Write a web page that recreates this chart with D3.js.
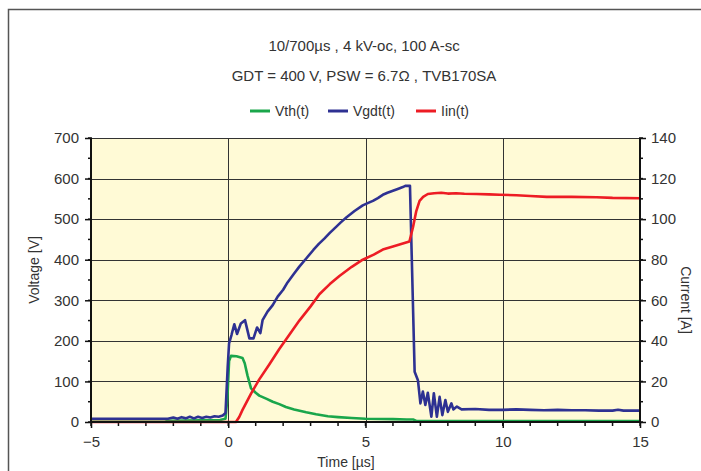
<!DOCTYPE html>
<html>
<head>
<meta charset="utf-8">
<script src="https://cdn.jsdelivr.net/npm/d3@7"></script>
<style>
  body { margin: 0; background: #fff; }
  svg { display: block; }
  text { font-family: "Liberation Sans", Arial, sans-serif; fill: #333; }
</style>
</head>
<body>
<div id="chart"></div>
<script>
const titleLines = ['10/700\u00b5s , 4 kV-oc, 100 A-sc', 'GDT = 400 V, PSW = 6.7\u03a9 , TVB170SA']
const seriesNames = ['Vth(t)', 'Vgdt(t)', 'Iin(t)']
const seriesColors = ['#1aa64b', '#2e3192', '#ed1c24']
const timeTicks = [-5, 0, 5, 10, 15]
const voltTicks = [0, 100, 200, 300, 400, 500, 600, 700]
const currentTicks = [0, 20, 40, 60, 80, 100, 120, 140]

// [time µs, voltage V]
const vth = [
  [-5, 0.5], [-2.3, 0.5], [-2.2, 3], [-1, 4], [-0.3, 5], [-0.1, 8], [-0.03, 60], [0.03, 150],
  [0.1, 163], [0.3, 162], [0.52, 158], [0.6, 145], [0.7, 115], [0.83, 83], [1.0, 72],
  [1.13, 65], [1.4, 57], [1.62, 50], [1.86, 44], [2.1, 37], [2.4, 31], [2.84, 24], [3.2, 19],
  [3.63, 14], [4.0, 12], [4.5, 10], [5, 8], [5.5, 7.5], [6, 7], [6.5, 6], [6.75, 6],
  [6.85, 2.5], [10, 2.5], [15, 2.5]
]

// [time µs, voltage V]
const vgdt = [
  [-5, 8], [-2.2, 8], [-2.0, 11], [-1.85, 8], [-1.7, 12], [-1.55, 9], [-1.4, 13], [-1.25, 9],
  [-1.1, 13], [-0.95, 10], [-0.8, 13], [-0.65, 11], [-0.5, 14], [-0.35, 13], [-0.2, 16],
  [-0.1, 22], [-0.02, 136], [0.03, 194], [0.12, 215], [0.22, 241], [0.32, 217], [0.46, 243],
  [0.61, 251], [0.77, 206], [0.92, 206], [1.05, 233], [1.17, 219], [1.25, 251], [1.43, 272],
  [1.62, 288], [1.8, 309], [2.0, 326], [2.16, 344], [2.4, 366], [2.59, 383], [2.84, 403],
  [3.1, 424], [3.3, 439], [3.5, 452], [3.7, 466], [3.93, 481], [4.1, 492], [4.3, 504],
  [4.6, 520], [4.9, 534], [5.1, 540], [5.27, 545], [5.45, 552], [5.63, 560], [5.8, 565],
  [6.0, 570], [6.2, 575], [6.36, 579], [6.45, 582], [6.62, 582], [6.79, 124],
  [6.91, 103], [7.0, 46], [7.09, 75], [7.18, 42], [7.27, 72], [7.4, 13], [7.49, 71], [7.6, 13],
  [7.7, 62], [7.8, 17], [7.91, 54], [8.0, 25], [8.13, 46], [8.2, 31], [8.33, 38], [8.5, 31],
  [9, 32], [9.5, 30], [10, 30], [10.5, 31], [11, 30], [11.5, 29], [12, 30], [12.5, 29],
  [13, 29], [13.5, 28], [14, 28], [14.2, 30], [14.4, 28], [15, 28]
]

// [time µs, current A]
const iin = [
  [-5, 0], [0.28, 0], [0.4, 2.5], [0.52, 6], [0.83, 14], [1.13, 21], [1.5, 28.5], [1.86, 36],
  [2.2, 42.5], [2.59, 50], [3.0, 57], [3.32, 63], [3.7, 68], [4.05, 72], [4.5, 76.5], [4.9, 80],
  [5.3, 82.5], [5.63, 85], [6.0, 86.5], [6.24, 87.5], [6.6, 89], [6.73, 96], [6.85, 104],
  [6.97, 109], [7.1, 111], [7.27, 112.4], [7.5, 112.8], [7.76, 113], [8, 112.6], [8.3, 112.8],
  [8.6, 112.5], [9.04, 112.4], [9.5, 112.2], [9.89, 112], [10.5, 111.8], [11, 111.4],
  [11.6, 111], [12.5, 111], [13.42, 110.8], [14, 110.5], [15, 110.3]
]

function drawChart(element) {
  const width = 701, height = 471
  const margin = { top: 138, right: 61, bottom: 49, left: 91 }

  const svg = d3.select(element).append('svg')
    .attr('width', width)
    .attr('height', height)

  // outer frame (top and left edges only)
  svg.append('path')
    .attr('d', `M8.5,${height} V9.5 H${width}`)
    .attr('fill', 'none')
    .attr('stroke', '#555')
    .attr('stroke-width', 1.5)

  const x = d3.scaleLinear([-5, 15], [margin.left, width - margin.right])
  const yV = d3.scaleLinear([0, 700], [height - margin.bottom, margin.top])
  const yI = d3.scaleLinear([0, 140], [height - margin.bottom, margin.top])

  // plot background
  svg.append('rect')
    .attr('x', x(-5)).attr('y', yV(700))
    .attr('width', x(15) - x(-5)).attr('height', yV(0) - yV(700))
    .attr('fill', '#fffad6')

  // grid
  svg.append('g')
    .attr('stroke', '#333')
    .attr('stroke-width', 1)
    .selectAll('line')
    .data(voltTicks.filter(d => d > 0))
    .join('line')
      .attr('x1', x(-5)).attr('x2', x(15))
      .attr('y1', d => Math.round(yV(d)) + 0.5).attr('y2', d => Math.round(yV(d)) + 0.5)

  svg.append('g')
    .attr('stroke', '#333')
    .attr('stroke-width', 1)
    .selectAll('line')
    .data([0, 5, 10])
    .join('line')
      .attr('x1', d => Math.round(x(d)) + 0.5).attr('x2', d => Math.round(x(d)) + 0.5)
      .attr('y1', yV(0)).attr('y2', yV(700))

  // minor ticks
  const minorX = d3.range(-5, 15.01, 1)
  const minorV = d3.range(0, 700.1, 50)
  const minorI = d3.range(0, 140.1, 10)
  const minor = svg.append('g').attr('stroke', '#111').attr('stroke-width', 1.5)
  minor.selectAll('.mx').data(minorX).join('line').attr('class', 'mx')
    .attr('x1', d => x(d)).attr('x2', d => x(d))
    .attr('y1', yV(0)).attr('y2', yV(0) + 4)
  minor.selectAll('.mv').data(minorV).join('line').attr('class', 'mv')
    .attr('x1', x(-5) - 3).attr('x2', x(-5) + 1)
    .attr('y1', d => yV(d)).attr('y2', d => yV(d))
  minor.selectAll('.mi').data(minorI).join('line').attr('class', 'mi')
    .attr('x1', x(15) - 1).attr('x2', x(15) + 3)
    .attr('y1', d => yI(d)).attr('y2', d => yI(d))

  // series
  const lineV = d3.line().x(d => x(d[0])).y(d => yV(d[1]))
  const lineI = d3.line().x(d => x(d[0])).y(d => yI(d[1]))
  const series = [
    { path: lineV(vth), color: seriesColors[0] },
    { path: lineV(vgdt), color: seriesColors[1] },
    { path: lineI(iin), color: seriesColors[2] },
  ]
  svg.append('g')
    .selectAll('path')
    .data(series)
    .join('path')
      .attr('d', d => d.path)
      .attr('fill', 'none')
      .attr('stroke', d => d.color)
      .attr('stroke-width', 2.6)
      .attr('stroke-linejoin', 'round')

  // axes
  const fmt = d3.format('d')
  const xAxis = svg.append('g')
    .attr('transform', `translate(0,${yV(0)})`)
    .call(d3.axisBottom(x).tickValues(timeTicks).tickSize(6).tickPadding(8)
      .tickFormat(d => d < 0 ? '\u2212' + Math.abs(d) : fmt(d)))
  const yAxisL = svg.append('g')
    .attr('transform', `translate(${x(-5)},0)`)
    .call(d3.axisLeft(yV).tickValues(voltTicks).tickSize(6).tickPadding(6).tickFormat(fmt))
  const yAxisR = svg.append('g')
    .attr('transform', `translate(${x(15)},0)`)
    .call(d3.axisRight(yI).tickValues(currentTicks).tickSize(6).tickPadding(5).tickFormat(fmt))

  for (const ax of [xAxis, yAxisL, yAxisR]) {
    ax.select('.domain').attr('stroke', '#111').attr('stroke-width', 2)
    ax.selectAll('.tick line').attr('stroke', '#111').attr('stroke-width', 1.5)
    ax.selectAll('.tick text')
      .attr('fill', '#333')
      .style('font-size', '15px')
      .style('font-family', '"Liberation Sans", Arial, sans-serif')
  }
  // domains without the outer tick ends
  xAxis.select('.domain').attr('d', `M${x(-5)},0H${x(15)}`)
  yAxisL.select('.domain').attr('d', `M0,${yV(0)}V${yV(700)}`)
  yAxisR.select('.domain').attr('d', `M0,${yI(0)}V${yI(140)}`)

  // axis titles
  svg.append('text')
    .attr('x', 346).attr('y', 467)
    .attr('text-anchor', 'middle')
    .style('font-size', '14px')
    .text('Time [\u00b5s]')
  svg.append('text')
    .attr('transform', 'translate(39,270) rotate(-90)')
    .attr('text-anchor', 'middle')
    .style('font-size', '14px')
    .text('Voltage [V]')
  svg.append('text')
    .attr('transform', 'translate(681,300) rotate(90)')
    .attr('text-anchor', 'middle')
    .style('font-size', '14px')
    .text('Current [A]')

  // title
  svg.append('g')
    .selectAll('text')
    .data(titleLines)
    .join('text')
      .attr('x', 364)
      .attr('y', (d, i) => 51 + i * 30)
      .attr('text-anchor', 'middle')
      .style('font-size', '15px')
      .text(d => d)

  // legend
  const legendX = [250, 328, 416]
  const legend = svg.append('g')
    .selectAll('g')
    .data(seriesNames)
    .join('g')
      .attr('transform', (d, i) => `translate(${legendX[i]},111)`)
  legend.append('line')
    .attr('x1', 0).attr('x2', 20)
    .attr('stroke', (d, i) => seriesColors[i])
    .attr('stroke-width', 3)
  legend.append('text')
    .attr('x', 25).attr('y', 5)
    .style('font-size', '14px')
    .text(d => d)
}

window.addEventListener('load', () => {
  drawChart(document.getElementById('chart'))
})
</script>
</body>
</html>
